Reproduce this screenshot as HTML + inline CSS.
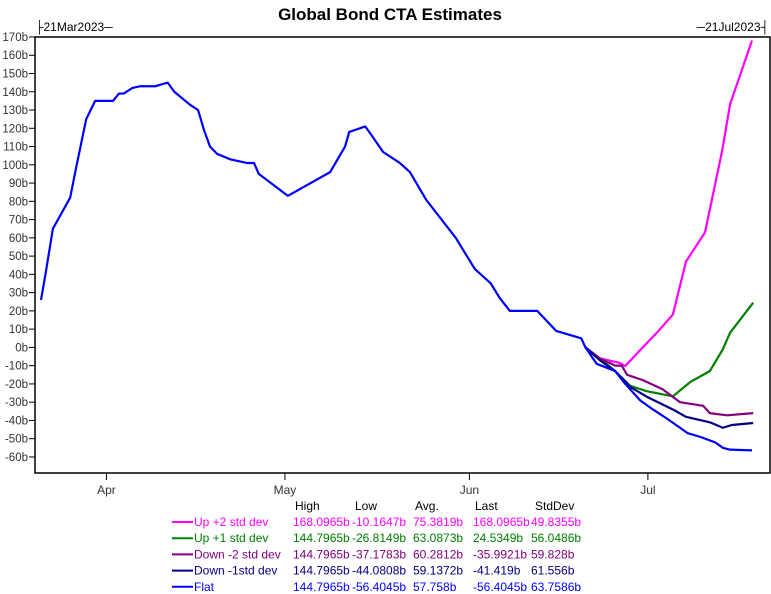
<!DOCTYPE html>
<html><head><meta charset="utf-8"><style>
html,body{margin:0;padding:0;background:#fff;}
svg{display:block;font-family:"Liberation Sans",sans-serif;}
</style></head><body>
<svg id="chart" width="771" height="594">
<text x="390" y="20" text-anchor="middle" font-size="17" font-weight="bold">Global Bond CTA Estimates</text>
<text x="35" y="31" font-size="12">├21Mar2023─</text>
<text x="769" y="31" font-size="12" text-anchor="end">─21Jul2023┤</text>
<rect x="35" y="37" width="735" height="436" fill="none" stroke="#000" stroke-width="1.5"/>
<g id="yaxis"></g>
<g id="xaxis"></g>
<g id="series"></g>
<g id="legend"></g>
</svg>
<script>
const yTicks=[170,160,150,140,130,120,110,100,90,80,70,60,50,40,30,20,10,0,-10,-20,-30,-40,-50,-60];
const monthLabels=["Apr","May","Jun","Jul"];
const monthDays=[11,41,72,102];
const flatDays=[0,0.8,2,4.9,6,7.6,9.1,12.1,13.1,13.9,15.3,16.6,19.2,20.2,21.3,22.4,25,26.4,27.4,28.4,29.6,31.8,34.6,35.8,36.6,41.5,48.6,51.1,51.8,54.5,55.6,57.5,60.3,62,64.7,69.7,72.9,75.6,77.1,78.8,81,83.4,86.6,90.8,91.5,93.4,96.5,98.2,100.7,102.4,105.2,107.4,108.7,110.8,113.3,114.6,115.8,119.5];
const flatVals=[26,41,65,82,100,125,135,135,139,139,142,143,143,144,145,140,133,130,119,110,106,103,101,101,95,83,96,110,118,121,116,107,101,96,81,60,43,35,27,20,20,20,9,5,0,-9,-13,-20,-29,-33,-39,-44,-47,-49,-52,-55,-56,-56.4];
const up2Days=[91.5,93.9,97.3,98.2,100.7,103.5,106.2,108.4,111.6,114.5,115.8,119.5];
const up2Vals=[0,-6,-8.5,-10.2,-1.5,8,18,47,63,108,133,168.1];
const up1Days=[91.5,93.9,96.5,99,101.8,106.2,109.1,112.4,114.6,115.8,119.7];
const up1Vals=[0,-6,-13,-21,-24,-26.8,-19,-13,-1,8,24.5];
const dn2Days=[91.5,93.9,96.5,97.6,98.5,101.2,104.5,107.4,111.3,112.4,115.3,119.7];
const dn2Vals=[0,-6,-10,-10,-15,-18,-23,-30,-32,-36,-37.2,-36];
const dn1Days=[91.5,93.9,96.5,99,101.8,106.2,108.4,112.4,114.6,116.1,119.7];
const dn1Vals=[0,-7,-13,-21.6,-27,-34,-38,-41,-44,-42.5,-41.4];
const seriesNames=["Up +2 std dev","Up +1 std dev","Down -2 std dev","Down -1std dev","Flat"];
const seriesColors=["#ff00ff","#008000","#800080","#000080","#0000ff"];
const statHigh=["168.0965b","144.7965b","144.7965b","144.7965b","144.7965b"];
const statLow=["-10.1647b","-26.8149b","-37.1783b","-44.0808b","-56.4045b"];
const statAvg=["75.3819b","63.0873b","60.2812b","59.1372b","57.758b"];
const statLast=["168.0965b","24.5349b","-35.9921b","-41.419b","-56.4045b"];
const statStd=["49.8355b","56.0486b","59.828b","61.556b","63.7586b"];

const NS="http://www.w3.org/2000/svg";
const X=d=>41+d*5.95;
const Y=v=>347.4-v*1.826;
function mk(tag,attrs,parent,txt){const e=document.createElementNS(NS,tag);for(const k in attrs)e.setAttribute(k,attrs[k]);if(txt!==undefined)e.textContent=txt;parent.appendChild(e);return e;}
const ya=document.getElementById('yaxis');
yTicks.forEach(v=>{
  const t=mk('line',{x1:29,x2:35,y1:Y(v),y2:Y(v),stroke:'#000'},ya);
  
  
  const l=mk('text',{x:28,y:Y(v)+4,'text-anchor':'end','font-size':11.5,fill:'#333'},ya,v+'b');
  
  
});
const xa=document.getElementById('xaxis');
monthDays.forEach((d,i)=>{
  const t=mk('line',{x1:X(d),x2:X(d),y1:473,y2:480,stroke:'#000'},xa);
  
  
  const l=mk('text',{x:X(d),y:494,'text-anchor':'middle','font-size':12,fill:'#333'},xa,monthLabels[i]);
  
  
});
const sg=document.getElementById('series');
function line(days,vals,col,name,prefix){
  let pts=[];
  if(prefix){for(let i=0;i<flatDays.length&&flatDays[i]<days[0];i++)pts.push(X(flatDays[i])+','+Y(flatVals[i]));}
  days.forEach((d,i)=>pts.push(X(d)+','+Y(vals[i])));
  const p=mk('polyline',{points:pts.join(' '),fill:'none',stroke:col,'stroke-width':2.2,'stroke-linejoin':'round'},sg);
  
  
}
line(up2Days,up2Vals,seriesColors[0],'series-up-2-std',false);
line(up1Days,up1Vals,seriesColors[1],'series-up-1-std',false);
line(dn2Days,dn2Vals,seriesColors[2],'series-down-2-std',false);
line(dn1Days,dn1Vals,seriesColors[3],'series-down-1-std',false);
line(flatDays,flatVals,seriesColors[4],'series-flat',false);

const lg=document.getElementById('legend');
[["High",295],["Low",355],["Avg.",415],["Last",475],["StdDev",535]].forEach(h=>{
  const t=mk('text',{x:h[1],y:510,'font-size':12,fill:'#000'},lg,h[0]);
  
  
});
seriesNames.forEach((n,i)=>{
  const y=526+i*16.2,c=seriesColors[i];
  const s=mk('line',{x1:172,x2:193,y1:y-4,y2:y-4,stroke:c,'stroke-width':2},lg);
  
  
  const cols=[[194,n],[293,statHigh[i]],[352,statLow[i]],[413,statAvg[i]],[473,statLast[i]],[531,statStd[i]]];
  cols.forEach(cc=>{
    const t=mk('text',{x:cc[0],y:y,'font-size':12,fill:c},lg,cc[1]);
    
    
  });
});
</script>
</body></html>
